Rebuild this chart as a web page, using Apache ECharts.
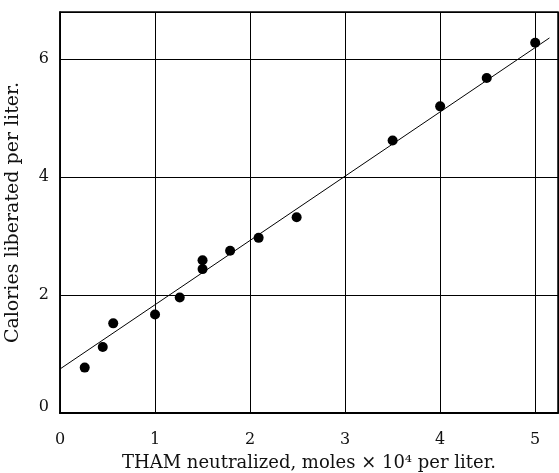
<!DOCTYPE html>
<html>
<head>
<meta charset="utf-8">
<script src="https://cdn.jsdelivr.net/npm/echarts@6/dist/echarts.min.js"></script>
<style>html,body{margin:0;padding:0;background:#fff}#c{width:559px;height:473px}</style>
</head>
<body>
<div id="c"></div>
<script>
const pointsX = [0.26, 0.45, 0.56, 1.0, 1.26, 1.50, 1.50, 1.79, 2.09, 2.49, 3.50, 4.0, 4.49, 5.0];
const pointsY = [0.77, 1.12, 1.52, 1.67, 1.96, 2.59, 2.44, 2.75, 2.97, 3.32, 4.62, 5.20, 5.68, 6.28];
const fitX = [0, 5.15];
const fitY = [0.746, 6.36];
const xTicks = [0, 1, 2, 3, 4, 5];
const yTicks = [0, 2, 4, 6];

const font = 'DejaVu Serif';
const chart = echarts.init(document.getElementById('c'), null, {renderer: 'canvas'});
chart.setOption({
  animation: false,
  backgroundColor: '#fff',
  grid: {left: 60, right: 1, top: 12, bottom: 60, outerBoundsMode: 'none', containLabel: false,
    show: true, borderColor: '#000', borderWidth: 1.5, backgroundColor: 'transparent'},
  xAxis: {
    type: 'value', min: 0, max: 5.24, interval: 1,
    name: 'THAM neutralized, moles × 10⁴ per liter.',
    nameLocation: 'middle', nameGap: 41,
    nameTextStyle: {fontFamily: font, fontSize: 18, color: '#111'},
    axisLine: {show: true, lineStyle: {color: '#000', width: 2}},
    axisTick: {show: false},
    splitLine: {show: true, lineStyle: {color: '#000', width: 1}},
    axisLabel: {fontFamily: font, fontSize: 16, color: '#111', margin: 19,
      formatter: v => xTicks.includes(v) ? String(v) : ''}
  },
  yAxis: {
    type: 'value', min: 0, max: 6.8, interval: 2,
    name: 'Calories liberated per liter.',
    nameLocation: 'middle', nameGap: 37,
    nameTextStyle: {fontFamily: font, fontSize: 19, color: '#111'},
    axisLine: {show: true, lineStyle: {color: '#000', width: 1.5}},
    axisTick: {show: false},
    splitLine: {show: true, lineStyle: {color: '#000', width: 1}},
    axisLabel: {fontFamily: font, fontSize: 16, color: '#111', margin: 11,
      formatter: v => v === 0 ? '{z|0}' : (yTicks.includes(v) ? String(v) : ''),
      rich: {z: {fontFamily: font, fontSize: 16, color: '#111', padding: [0, 0, 12, 0]}}}
  },
  series: [
    {type: 'line', data: fitX.map((x, i) => [x, fitY[i]]), symbol: 'none',
      lineStyle: {color: '#000', width: 1}, z: 2},
    {type: 'scatter', data: pointsX.map((x, i) => [x, pointsY[i]]), symbolSize: 10,
      itemStyle: {color: '#000', opacity: 1}, z: 3}
  ]
});
</script>
</body>
</html>
